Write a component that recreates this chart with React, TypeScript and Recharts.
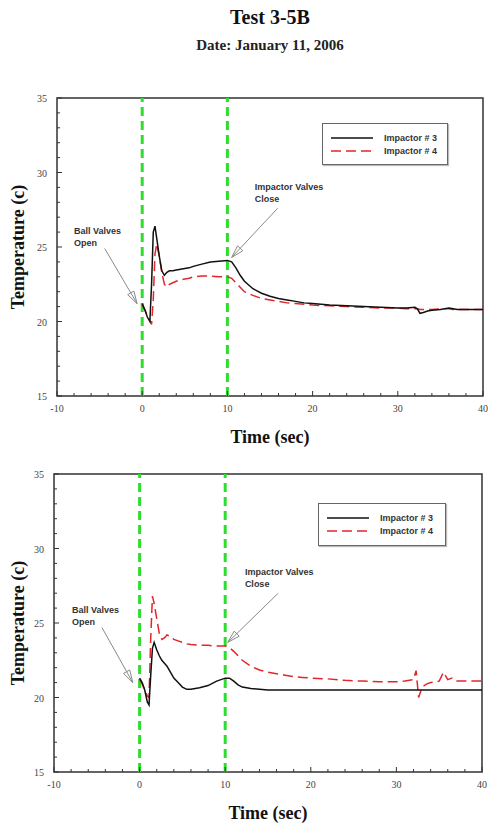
import React from "react";
import { LineChart, Line, XAxis, YAxis, ReferenceLine, ReferenceDot, ReferenceArea, Legend } from "recharts";

// time base (sec) shared by both panels
const time = [
  0, 0.3, 0.6, 0.9, 1.1, 1.3, 1.5, 1.7, 2.0, 2.3, 2.6, 2.9, 3.2, 3.6, 4, 4.5, 5, 5.5, 6, 7, 8, 9, 10, 10.5, 11,
  11.5, 12, 13, 14, 15, 16, 17, 18, 19, 20, 22, 24, 26, 28, 30, 31, 32, 32.3, 32.6, 33, 33.5, 34, 35, 35.5, 36,
  36.5, 37, 38, 39, 40,
];

// top panel temperatures (c)
const topImpactor3 = [
  21.2, 20.8, 20.3, 20.0, 22.5, 26.0, 26.4, 25.6, 24.4, 23.4, 23.1, 23.3, 23.4, 23.4, 23.45, 23.5, 23.55, 23.6,
  23.7, 23.85, 24.0, 24.05, 24.1, 24.0, 23.6, 23.1, 22.7, 22.2, 21.9, 21.7, 21.55, 21.45, 21.35, 21.25, 21.2,
  21.1, 21.05, 21.0, 20.95, 20.9, 20.9, 20.95, 20.85, 20.55, 20.6, 20.7, 20.75, 20.8, 20.85, 20.9, 20.85, 20.8,
  20.8, 20.8, 20.8,
];
const topImpactor4 = [
  21.1, 20.8, 20.4, 20.1, 19.8, 21.5, 24.5, 25.2, 24.4, 23.3, 22.5, 22.3, 22.5, 22.6, 22.7, 22.8, 22.85, 22.9,
  23.0, 23.05, 23.05, 23.0, 23.0, 22.9, 22.6, 22.3, 22.0, 21.75, 21.55, 21.45, 21.35, 21.25, 21.2, 21.15, 21.1,
  21.05, 21.0, 20.95, 20.9, 20.9, 20.85, 20.85, 20.85, 20.8, 20.8, 20.8, 20.8, 20.85, 20.85, 20.85, 20.8, 20.8,
  20.8, 20.8, 20.8,
];

// bottom panel temperatures (c)
const bottomImpactor3 = [
  21.3, 21.0, 20.5, 19.7, 19.5, 21.5, 23.3, 23.7, 23.2, 22.8, 22.5, 22.3, 22.1, 21.7, 21.3, 21.0, 20.7, 20.55,
  20.55, 20.65, 20.8, 21.1, 21.3, 21.3, 21.1, 20.85, 20.7, 20.6, 20.55, 20.5, 20.5, 20.5, 20.5, 20.5, 20.5, 20.5,
  20.5, 20.5, 20.5, 20.5, 20.5, 20.5, 20.5, 20.5, 20.5, 20.5, 20.5, 20.5, 20.5, 20.5, 20.5, 20.5, 20.5, 20.5,
  20.5,
];
const bottomImpactor4 = [
  21.2, 20.9, 20.5, 20.1, 20.0, 24.0, 26.8, 26.3, 25.3, 24.3, 23.9, 24.0, 24.2, 24.1, 23.9, 23.8, 23.7, 23.6,
  23.55, 23.5, 23.5, 23.45, 23.45, 23.35, 23.1, 22.8, 22.5, 22.1, 21.85, 21.7, 21.6, 21.5, 21.4, 21.35, 21.3,
  21.25, 21.15, 21.1, 21.05, 21.05, 21.1, 21.2, 21.8, 20.0, 20.7, 20.9, 21.0, 21.1, 21.7, 21.2, 21.3, 21.1, 21.1,
  21.1, 21.1,
];

const seriesNames = ["Impactor # 3", "Impactor # 4"];
const eventTimes = [0, 10];
const xTicks = [-10, -8, -6, -4, -2, 0, 2, 4, 6, 8, 10, 12, 14, 16, 18, 20, 22, 24, 26, 28, 30, 32, 34, 36, 38, 40];
const yTicks = [15, 16, 17, 18, 19, 20, 21, 22, 23, 24, 25, 26, 27, 28, 29, 30, 31, 32, 33, 34, 35];

type Note = { lines: string[]; x: number; y: number };
type Arrow = { from: [number, number]; to: [number, number] };

const topNotes: Note[] = [
  { lines: ["Ball Valves", "Open"], x: -8.0, y: 26.1 },
  { lines: ["Impactor Valves", "Close"], x: 13.2, y: 29.0 },
];
const topArrows: Arrow[] = [
  { from: [-4.4, 24.9], to: [-0.6, 21.2] },
  { from: [15.9, 27.6], to: [10.5, 24.3] },
];
const bottomNotes: Note[] = [
  { lines: ["Ball Valves", "Open"], x: -7.9, y: 25.9 },
  { lines: ["Impactor Valves", "Close"], x: 12.3, y: 28.4 },
];
const bottomArrows: Arrow[] = [
  { from: [-4.4, 24.7], to: [-0.8, 21.0] },
  { from: [16.2, 27.0], to: [10.3, 23.7] },
];

const SERIF = '"Liberation Serif", "Times New Roman", serif';
const SANS = '"Liberation Sans", Arial, sans-serif';
const RED = "#e2262b";
const GREEN = "#2fdc2f";

function XTick(props: any) {
  const { x, y, payload } = props;
  const major = payload.value % 10 === 0;
  return (
    <g>
      <line x1={x} x2={x} y1={y} y2={y - (major ? 5 : 3)} stroke="#333" strokeWidth={1} />
      {major && (
        <text x={x} y={y + 16} textAnchor="middle" fontSize={10} fill="#444" fontFamily={SERIF}>
          {payload.value}
        </text>
      )}
    </g>
  );
}

function YTick(props: any) {
  const { x, y, payload } = props;
  const major = payload.value % 5 === 0;
  return (
    <g>
      <line x1={x} x2={x + (major ? 5 : 3)} y1={y} y2={y} stroke="#333" strokeWidth={1} />
      {major && (
        <text x={x - 10} y={y + 4} textAnchor="end" fontSize={10} fill="#444" fontFamily={SERIF}>
          {payload.value}
        </text>
      )}
    </g>
  );
}

function ArrowShape(props: any) {
  const { x1, y1, x2, y2 } = props;
  const a = Math.atan2(y2 - y1, x2 - x1);
  const len = 13;
  const spread = 0.28;
  const b1 = [x2 - len * Math.cos(a - spread), y2 - len * Math.sin(a - spread)];
  const b2 = [x2 - len * Math.cos(a + spread), y2 - len * Math.sin(a + spread)];
  return (
    <g>
      <line x1={x1} y1={y1} x2={x2} y2={y2} stroke="#8a8a8a" strokeWidth={1} />
      <polygon points={`${b1[0]},${b1[1]} ${x2},${y2} ${b2[0]},${b2[1]}`} fill="none" stroke="#8a8a8a" strokeWidth={1} />
    </g>
  );
}

function makeNoteShape(lines: string[]) {
  return (props: any) => (
    <text x={props.cx} y={props.cy + 3} fontSize={9} fontWeight="bold" fill="#333" fontFamily={SANS}>
      {lines.map((l, i) => (
        <tspan key={i} x={props.cx} dy={i === 0 ? 0 : 12}>
          {l}
        </tspan>
      ))}
    </text>
  );
}

function LegendBox() {
  return (
    <div
      style={{
        width: "100%",
        height: "100%",
        boxSizing: "border-box",
        border: "1.5px solid #666",
        background: "#fff",
        boxShadow: "1px 1px 1px #bbb",
      }}
    >
      <svg width="100%" height="100%">
        <line x1={8} x2={50} y1={14} y2={14} stroke="#111" strokeWidth={1.5} />
        <line x1={8} x2={50} y1={27} y2={27} stroke={RED} strokeWidth={1.5} strokeDasharray="10 5" />
        <text x={61} y={17} fontSize={9} fontWeight="bold" fill="#333" fontFamily={SANS}>
          {seriesNames[0]}
        </text>
        <text x={61} y={30} fontSize={9} fontWeight="bold" fill="#333" fontFamily={SANS}>
          {seriesNames[1]}
        </text>
      </svg>
    </div>
  );
}

type PanelProps = {
  imp3: number[];
  imp4: number[];
  notes: Note[];
  arrows: Arrow[];
  height: number;
  margin: { top: number; right: number; left: number; bottom: number };
  legendPos: { top: number; left: number; width: number; height: number };
};

function Panel({ imp3, imp4, notes, arrows, height, margin, legendPos }: PanelProps) {
  const data = time.map((t, i) => ({ t, imp3: imp3[i], imp4: imp4[i] }));
  return (
    <LineChart width={490} height={height} data={data} margin={margin}>
      <XAxis
        dataKey="t"
        type="number"
        domain={[-10, 40]}
        ticks={xTicks}
        interval={0}
        tickSize={0}
        tickMargin={0}
        tickLine={false}
        axisLine={false}
        tick={<XTick />}
        height={48}
        label={{
          content: (p: any) => {
            const vb = p.viewBox;
            return (
              <text x={vb.x + vb.width / 2} y={vb.y + 47} textAnchor="middle" fontSize={18} fontWeight="bold" fill="#111" fontFamily={SERIF}>
                Time (sec)
              </text>
            );
          },
        }}
      />
      <YAxis
        type="number"
        domain={[15, 35]}
        ticks={yTicks}
        interval={0}
        tickSize={0}
        tickMargin={0}
        tickLine={false}
        axisLine={false}
        tick={<YTick />}
        width={49}
        label={{
          content: (p: any) => {
            const vb = p.viewBox;
            const cx = 18;
            const cy = vb.y + vb.height / 2;
            return (
              <text x={cx} y={cy} transform={`rotate(-90 ${cx} ${cy})`} textAnchor="middle" dominantBaseline="central" fontSize={18} fontWeight="bold" fill="#111" fontFamily={SERIF}>
                Temperature (c)
              </text>
            );
          },
        }}
      />
      <ReferenceArea x1={-10} x2={40} y1={15} y2={35} fill="none" stroke="#333" strokeWidth={1.5} ifOverflow="visible" />
      {eventTimes.map((t) => (
        <ReferenceLine key={t} x={t} stroke={GREEN} strokeWidth={3} strokeDasharray="9 5" />
      ))}
      <Line dataKey="imp4" name={seriesNames[1]} stroke={RED} strokeWidth={1.5} strokeDasharray="10 5" dot={false} type="linear" isAnimationActive={false} />
      <Line dataKey="imp3" name={seriesNames[0]} stroke="#111" strokeWidth={1.5} dot={false} type="linear" isAnimationActive={false} />
      {arrows.map((a, i) => (
        <ReferenceLine
          key={"a" + i}
          segment={[
            { x: a.from[0], y: a.from[1] },
            { x: a.to[0], y: a.to[1] },
          ]}
          ifOverflow="visible"
          shape={ArrowShape}
        />
      ))}
      {notes.map((n, i) => (
        <ReferenceDot key={"n" + i} x={n.x} y={n.y} r={0} ifOverflow="visible" shape={makeNoteShape(n.lines)} />
      ))}
      <Legend
        layout="vertical"
        align="center"
        verticalAlign="middle"
        wrapperStyle={{ ...legendPos, position: "absolute" }}
        content={() => <LegendBox />}
      />
    </LineChart>
  );
}

export default function App() {
  return (
    <div style={{ position: "absolute", left: 0, top: 0, width: 490, height: 827, background: "#fff", fontFamily: SERIF }}>
      <div style={{ position: "absolute", left: 170, top: 6, width: 200, textAlign: "center", fontSize: 20, fontWeight: "bold", color: "#111" }}>
        Test 3-5B
      </div>
      <div style={{ position: "absolute", left: 120, top: 37, width: 300, textAlign: "center", fontSize: 15, fontWeight: "bold", color: "#222" }}>
        Date: January 11, 2006
      </div>
      <div style={{ position: "absolute", left: 0, top: 60 }}>
        <Panel
          imp3={topImpactor3}
          imp4={topImpactor4}
          notes={topNotes}
          arrows={topArrows}
          height={400}
          margin={{ top: 38, right: 7, left: 8, bottom: 16 }}
          legendPos={{ top: 63, left: 322, width: 126, height: 42 }}
        />
      </div>
      <div style={{ position: "absolute", left: 0, top: 440 }}>
        <Panel
          imp3={bottomImpactor3}
          imp4={bottomImpactor4}
          notes={bottomNotes}
          arrows={bottomArrows}
          height={387}
          margin={{ top: 34, right: 8, left: 5, bottom: 7 }}
          legendPos={{ top: 63, left: 318, width: 128, height: 43 }}
        />
      </div>
    </div>
  );
}
